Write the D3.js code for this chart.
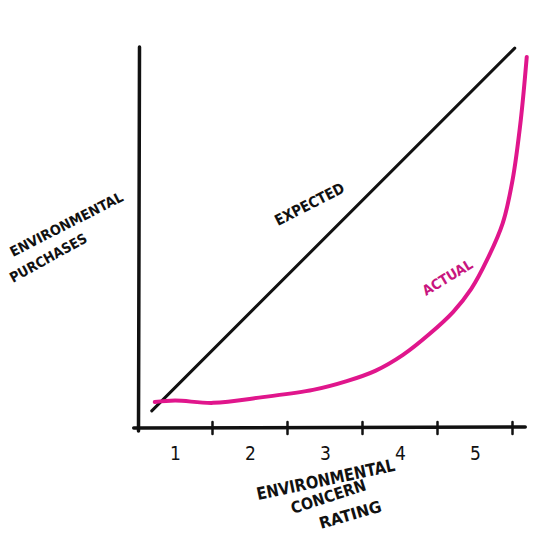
<!DOCTYPE html>
<html>
<head>
<meta charset="utf-8">
<script src="https://cdn.jsdelivr.net/npm/d3@7"></script>
<style>
  body { margin: 0; background: #fff; }
  text { font-family: "DejaVu Sans Condensed", "DejaVu Sans", sans-serif; font-weight: bold; }
</style>
</head>
<body>
<div id="chart"></div>
<script>
// concern rating categories (tick labels)
const ratings = [1, 2, 3, 4, 5];
// boundaries between ratings where the tick marks sit
const tickBreaks = [1.5, 2.5, 3.5, 4.5, 5.5];

// "expected" line (rating, purchases 0-100)
const expectedX = [0.69, 5.53];
const expectedY = [4.5, 99.7];

// "actual" curve
const actualX = [0.73, 1.0, 1.51, 2.17, 2.84, 3.29, 3.67, 4.04, 4.4, 4.71, 4.95, 5.16, 5.37, 5.5, 5.61, 5.69];
const actualY = [6.8, 7.2, 6.6, 8.1, 10.0, 12.3, 15.0, 19.2, 24.8, 30.5, 36.5, 44.1, 53.8, 65.0, 80.8, 97.4];

const width = 540, height = 540;

const svg = d3.select("#chart")
  .append("svg")
    .attr("width", width)
    .attr("height", height);

const x = d3.scaleLinear()
    .domain([0.5, 5.5])
    .range([137.5, 512.5]);

const y = d3.scaleLinear()
    .domain([0, 100])
    .range([428, 47]);

// axes, drawn like marker strokes
svg.append("line")
    .attr("x1", x(0.5) + 1).attr("x2", x(0.5) + 2)
    .attr("y1", y(0) + 3).attr("y2", y(100))
    .attr("stroke", "#111").attr("stroke-width", 3.5).attr("stroke-linecap", "round");

svg.append("line")
    .attr("x1", x(0.45)).attr("x2", x(5.67))
    .attr("y1", y(0)).attr("y2", y(0) - 1)
    .attr("stroke", "#111").attr("stroke-width", 3.5).attr("stroke-linecap", "round");

svg.selectAll(".tick-mark")
  .data(tickBreaks)
  .enter()
  .append("line")
    .attr("class", "tick-mark")
    .attr("x1", d => x(d)).attr("x2", d => x(d))
    .attr("y1", y(0) - 6).attr("y2", y(0) + 6)
    .attr("stroke", "#111").attr("stroke-width", 2.5).attr("stroke-linecap", "round");

// rating labels via the library axis
const xAxis = svg.append("g")
    .attr("transform", `translate(0,${y(0) + 15})`)
    .call(d3.axisBottom(x).tickValues(ratings).tickSize(0).tickFormat(d3.format("d")));
xAxis.select(".domain").remove();
xAxis.selectAll("text")
    .attr("font-size", 19)
    .attr("fill", "#111")
    .style("font-family", "\"DejaVu Sans Condensed\", \"DejaVu Sans\", sans-serif")
    .style("font-weight", "normal");

const line = d3.line()
    .x(d => x(d[0]))
    .y(d => y(d[1]));

svg.append("path")
    .datum(d3.zip(expectedX, expectedY))
    .attr("fill", "none")
    .attr("stroke", "#111")
    .attr("stroke-width", 3)
    .attr("stroke-linecap", "round")
    .attr("d", line);

svg.append("path")
    .datum(d3.zip(actualX, actualY))
    .attr("fill", "none")
    .attr("stroke", "#e0168c")
    .attr("stroke-width", 4)
    .attr("stroke-linecap", "round")
    .attr("d", line.curve(d3.curveCatmullRom));

// hand-lettered labels
function label(txt, px, py, angle, len, size, color) {
  svg.append("text")
      .attr("transform", `translate(${px},${py}) rotate(${angle})`)
      .attr("font-size", size)
      .attr("fill", color)
      .attr("textLength", len)
      .attr("lengthAdjust", "spacingAndGlyphs")
      .text(txt);
}

label("EXPECTED", 278, 226, -27, 76, 15, "#111");
label("ACTUAL", 426, 296, -31, 56, 14, "#c8157e");

label("ENVIRONMENTAL", 13, 257, -27, 125, 14, "#111");
label("PURCHASES", 13, 283, -29, 86, 14, "#111");

label("ENVIRONMENTAL", 258, 500, -12, 141, 17, "#111");
label("CONCERN", 293, 514, -18, 78, 16, "#111");
label("RATING", 321, 529, -16, 64, 16, "#111");
</script>
</body>
</html>
